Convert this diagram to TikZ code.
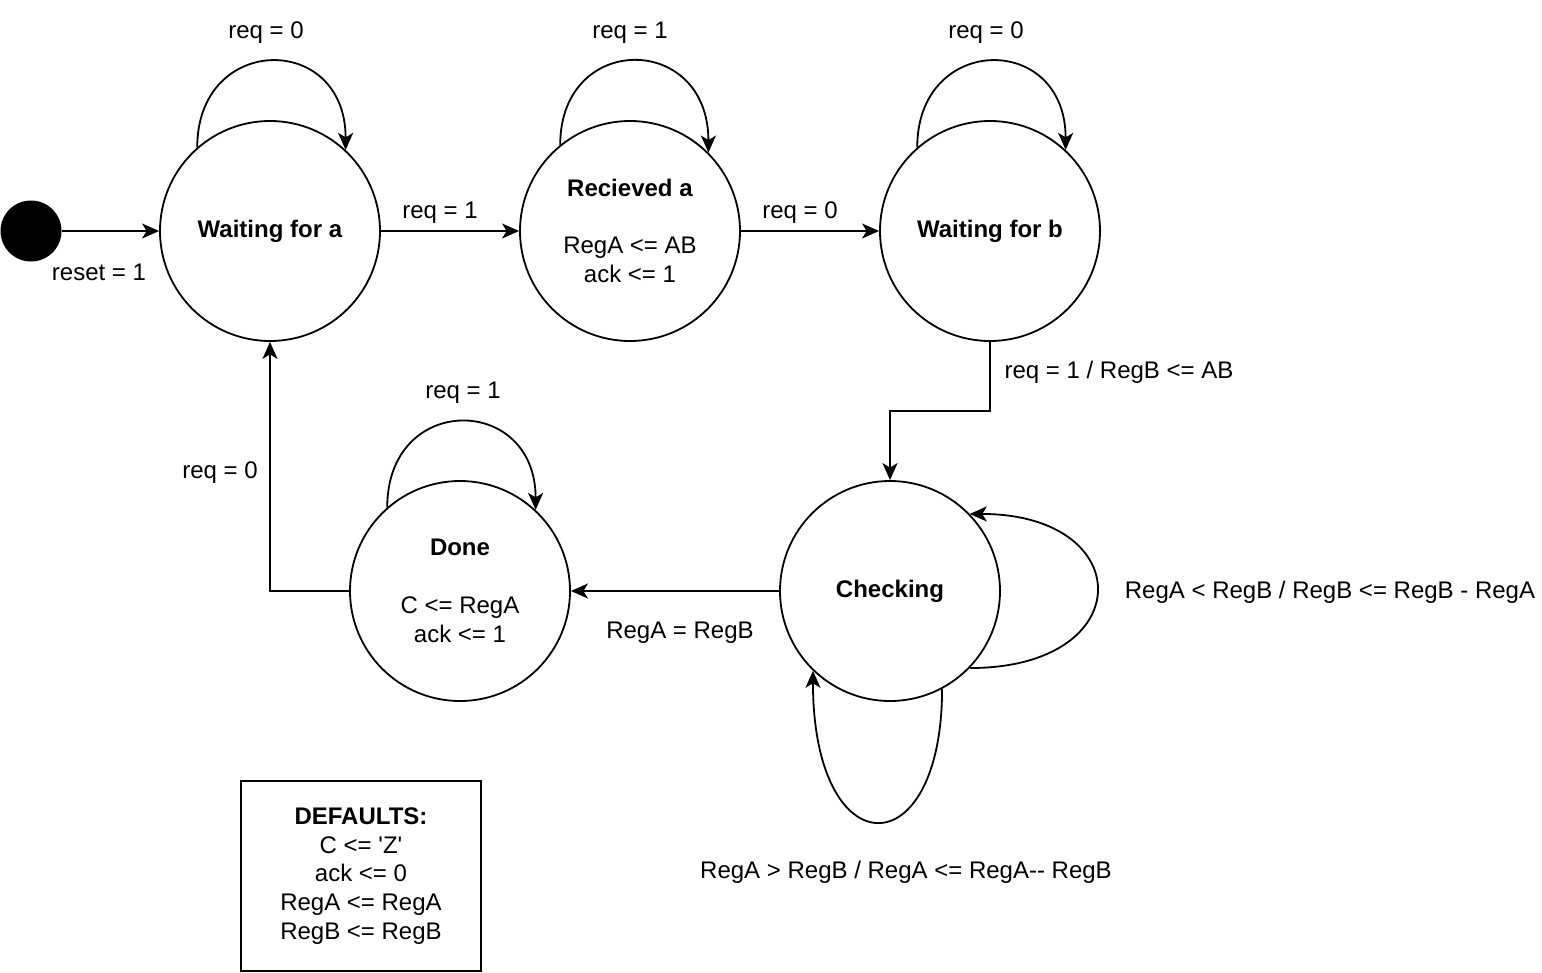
\documentclass[tikz,border=0pt]{standalone}
\usepackage{fontspec}
\setmainfont{Liberation Sans}
\usetikzlibrary{arrows.meta}
\tikzset{
  state/.style={circle, draw, line width=1.8pt, minimum size=220pt, inner sep=0pt, align=center, font=\fontsize{24}{28.8}\selectfont},
  lbl/.style={font=\fontsize{24}{28.8}\selectfont, inner sep=0pt, align=center, yshift=-2.5pt},
  edge/.style={line width=1.8pt, -{Stealth[length=17pt, width=15pt, inset=4.5pt]}},
}
\begin{document}
\begin{tikzpicture}[x=1pt, y=-1pt]
\useasboundingbox (0,0) rectangle (1542,972);
% nodes
\node[circle, fill=black, minimum size=61pt, inner sep=0pt] (init) at (31,231) {};
\node[state] (wa) at (270,231) {\textbf{Waiting for a}};
\node[state] (ra) at (630,231) {\textbf{Recieved a}\\[28.8pt]RegA <= AB\\ack <= 1};
\node[state] (wb) at (990,231) {\textbf{Waiting for b}};
\node[state] (chk) at (890,591) {\textbf{Checking}};
\node[state] (done) at (460,591) {\textbf{Done}\\[28.8pt]C <= RegA\\ack <= 1};
\node[draw, line width=1.8pt, minimum width=240pt, minimum height=190pt, font=\fontsize{24}{28.8}\selectfont, inner sep=0pt, align=center] (defs) at (361,876)
  {\textbf{DEFAULTS:}\\C <= \textquotesingle Z\textquotesingle\\ack <= 0\\RegA <= RegA\\RegB <= RegB};
\coordinate (bend) at (940,411);
% edges
\draw[edge] (init) -- (wa);
\draw[edge] (wa) -- (ra);
\draw[edge] (ra) -- (wb);
\draw[edge] (wb.south) |- (bend) -| (chk.north);
\draw[edge] (chk) -- (done);
\draw[edge] (done.west) -| (wa.south);
% self loops
\draw[edge] (wa.131) .. controls +(0,-114) and +(0,-118) .. (wa.47);
\draw[edge] (ra.129) .. controls +(0,-113) and +(0,-120) .. (ra.45);
\draw[edge] (wb.131) .. controls +(0,-114) and +(0,-118) .. (wb.47);
\draw[edge] (done.131) .. controls +(0,-115) and +(0,-116) .. (done.47);
\draw[edge] (chk.-44) .. controls +(170,0) and +(168,0) .. (chk.44);
\draw[edge] (chk.-62) .. controls +(0,180) and +(0,198) .. (chk.-134);
% labels
\node[lbl] at (99,270) {reset = 1};
\node[lbl] at (440,210) {req = 1};
\node[lbl] at (800,210) {req = 0};
\node[lbl] at (266,30) {req = 0};
\node[lbl] at (630,30) {req = 1};
\node[lbl] at (986,30) {req = 0};
\node[lbl] at (463,390) {req = 1};
\node[lbl] at (220,470) {req = 0};
\node[lbl] at (1119,370) {req = 1 / RegB <= AB};
\node[lbl] at (680,630) {RegA = RegB};
\node[lbl] at (1330,590) {RegA < RegB / RegB <= RegB - RegA};
\node[lbl] at (906,870) {RegA > RegB / RegA <= RegA-{}- RegB};
\end{tikzpicture}
\end{document}
